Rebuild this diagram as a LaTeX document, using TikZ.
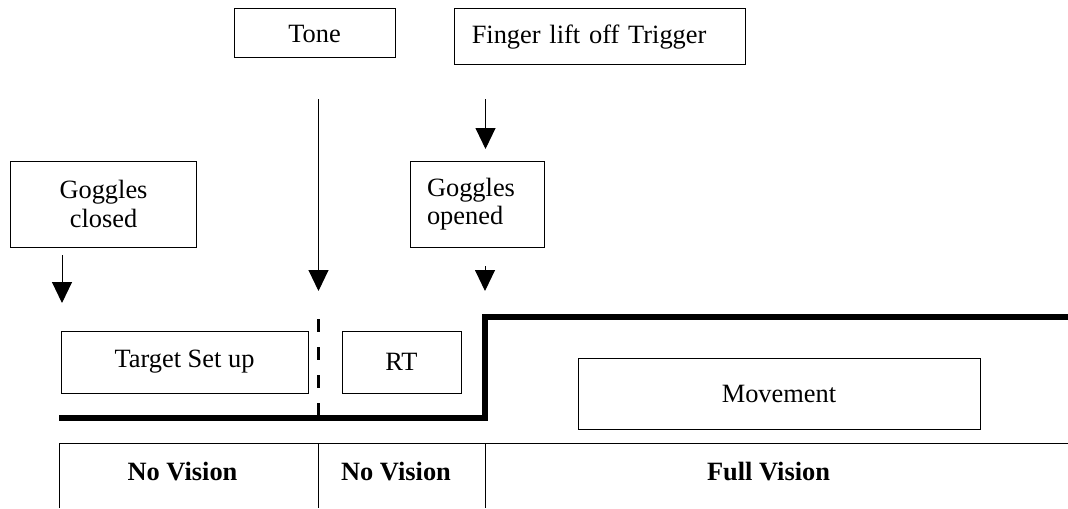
\documentclass[tikz,border=0pt]{standalone}
\usepackage{fontspec}
\setmainfont{Liberation Serif}
\usepackage{tikz}
\usetikzlibrary{arrows.meta}

\begin{document}
\begin{tikzpicture}[x=0.5pt, y=-0.5pt,
        font=\fontsize{13.2}{14.2}\selectfont,
        evbox/.style={draw, line width=0.5pt, inner xsep=8.5pt, inner ysep=0pt},
        tip/.style={-{Triangle[length=10.5pt, width=10pt]}, line width=0.5pt},
        thin/.style={line width=0.5pt}]
        \useasboundingbox (0, 0) rectangle (1068, 508);
        % event boxes
        \node [evbox, minimum width=80.5pt, minimum height=24.5pt] (tone) at (314.5, 33.5) {Tone};
        \node [evbox, text width=128.25pt, align=left, minimum height=28pt] (finger) at (600, 37) {Finger lift off Trigger};
        \node [evbox, text width=76pt, align=center, minimum height=43pt] (closed) at (103.5, 204) {Goggles\\closed};
        \node [evbox, text width=50pt, align=left, minimum height=43pt] (opened) at (477, 204) {Goggles\\opened};
        \node [evbox, minimum width=123.5pt, minimum height=31pt] (setup) at (184.5, 362) {Target Set up};
        \node [evbox, minimum width=59.5pt, minimum height=31pt] (rt) at (401.5, 362) {RT};
        \node [evbox, minimum width=201pt, minimum height=35.5pt] (move) at (779, 394) {Movement};
        % arrows
        \coordinate (tonetop) at (318.5, 99);
        \coordinate (tonetip) at (318.5, 291);
        \coordinate (fingertop) at (485.5, 99);
        \coordinate (fingertip) at (485.5, 149);
        \coordinate (opentop) at (485, 266);
        \coordinate (opentip) at (485, 291);
        \coordinate (closetop) at (62, 255);
        \coordinate (closetip) at (62, 303);
        \draw [tip] (tonetop) -- (tonetip);
        \draw [tip] (fingertop) -- (fingertip);
        \draw [tip] (opentop) -- (opentip);
        \draw [tip] (closetop) -- (closetip);
        % vision trace
        \draw [line width=1.7pt, dash pattern=on 6.5pt off 7.5pt] (318.5, 319) -- (318.5, 418);
        \draw [line width=3pt, line join=miter] (59, 418) -- (485, 418) -- (485, 317) -- (1068, 317);
        % table
        \draw [thin] (59, 508) -- (59, 443.5) -- (1068, 443.5);
        \draw [thin] (318.5, 443.5) -- (318.5, 508);
        \draw [thin] (485, 443.5) -- (485, 508);
        \node (nv1) at (182.5, 472) {\bfseries No Vision};
        \node (nv2) at (396, 472) {\bfseries No Vision};
        \node (fv) at (768.5, 472) {\bfseries Full Vision};
    \end{tikzpicture}
\end{document}
